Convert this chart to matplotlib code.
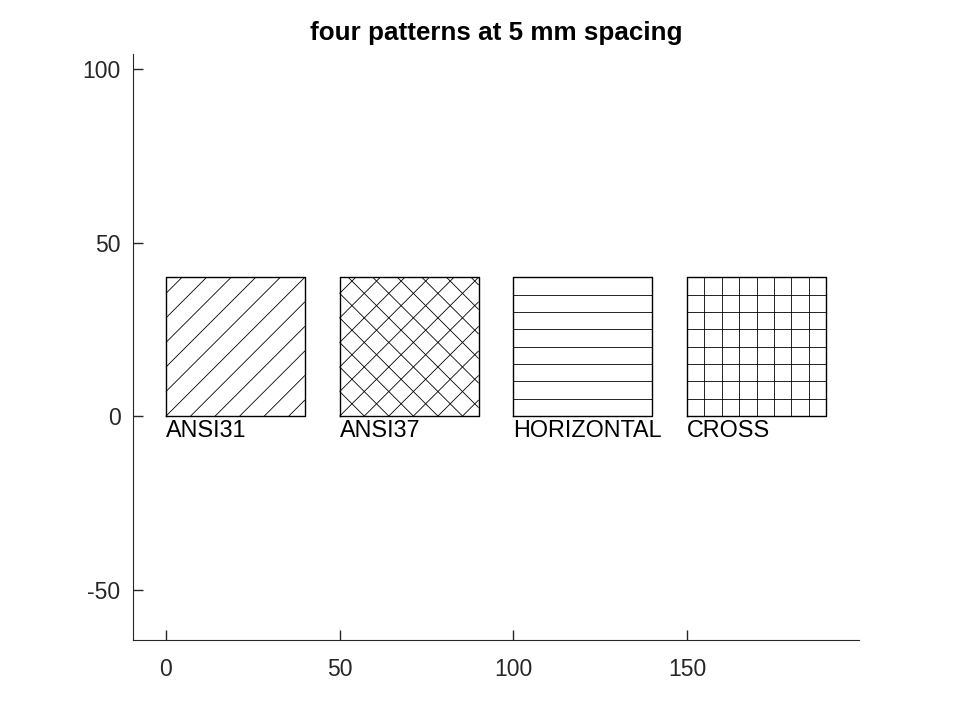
import numpy as np
import matplotlib.pyplot as plt

plt.rcParams['font.family'] = ['Liberation Sans', 'DejaVu Sans']
plt.rcParams['axes.unicode_minus'] = False

# data: four hatch samples, 40 x 40 squares, line spacing 5 (mm)
pattern_names = ['ANSI31', 'ANSI37', 'HORIZONTAL', 'CROSS']
box_x0 = [0, 50, 100, 150]
box_size = 40
spacing = 5
x_ticks = [0, 50, 100, 150]
y_ticks = [-50, 0, 50, 100]

axis_col = (0.15, 0.15, 0.15)


def diag_up(x0, s, d):
    # lines x - y = c, 45 deg, perpendicular spacing d
    step = d * np.sqrt(2)
    segs = []
    k = int(s / step)
    for c in np.arange(-k, k + 1) * step:
        xa, ya = max(0, c), max(0, -c)
        xb, yb = min(s, s + c), min(s, s - c)
        segs.append(([x0 + xa, x0 + xb], [ya, yb]))
    return segs


def diag_down(x0, s, d):
    # lines x + y = c
    step = d * np.sqrt(2)
    segs = []
    for c in np.arange(1, int(2 * s / step) + 1) * step:
        if c >= 2 * s:
            continue
        xa, ya = max(0, c - s), min(s, c)
        xb, yb = min(s, c), max(0, c - s)
        segs.append(([x0 + xa, x0 + xb], [ya, yb]))
    return segs


def horiz(x0, s, d):
    return [([x0, x0 + s], [y, y]) for y in np.arange(d, s, d)]


def vert(x0, s, d):
    return [([x, x], [0, s]) for x in np.arange(x0 + d, x0 + s, d)]


fig = plt.figure(figsize=(9.6, 7.2), dpi=100)
ax = fig.add_axes([133 / 960, 80 / 720, 726 / 960, 586 / 720])

for name, x0 in zip(pattern_names, box_x0):
    if name == 'ANSI31':
        segs = diag_up(x0, box_size, spacing)
    elif name == 'ANSI37':
        segs = diag_up(x0, box_size, spacing) + diag_down(x0, box_size, spacing)
    elif name == 'HORIZONTAL':
        segs = horiz(x0, box_size, spacing)
    else:
        segs = horiz(x0, box_size, spacing) + vert(x0, box_size, spacing)
    for xs, ys in segs:
        ax.plot(xs, ys, color='black', lw=0.6, solid_capstyle='butt')
    ax.plot([x0, x0 + box_size, x0 + box_size, x0, x0],
            [0, 0, box_size, box_size, 0], color='black', lw=1.0)
    ax.text(x0, -6, name, fontsize=16.8, ha='left', va='baseline')

ax.set_xlim(-9.5, 199.5)
ax.set_ylim(-64.5, 104.3)
ax.set_xticks(x_ticks)
ax.set_yticks(y_ticks)
ax.tick_params(direction='in', length=7, width=1, labelsize=16.5,
               color=axis_col, labelcolor=axis_col)
ax.tick_params(axis='x', pad=13)
ax.tick_params(axis='y', pad=9)
ax.spines['top'].set_visible(False)
ax.spines['right'].set_visible(False)
for sp in ['left', 'bottom']:
    ax.spines[sp].set_color(axis_col)
ax.set_title('four patterns at 5 mm spacing', fontsize=18.7, fontweight='bold', pad=10)

fig.savefig('out.png', dpi=100)
